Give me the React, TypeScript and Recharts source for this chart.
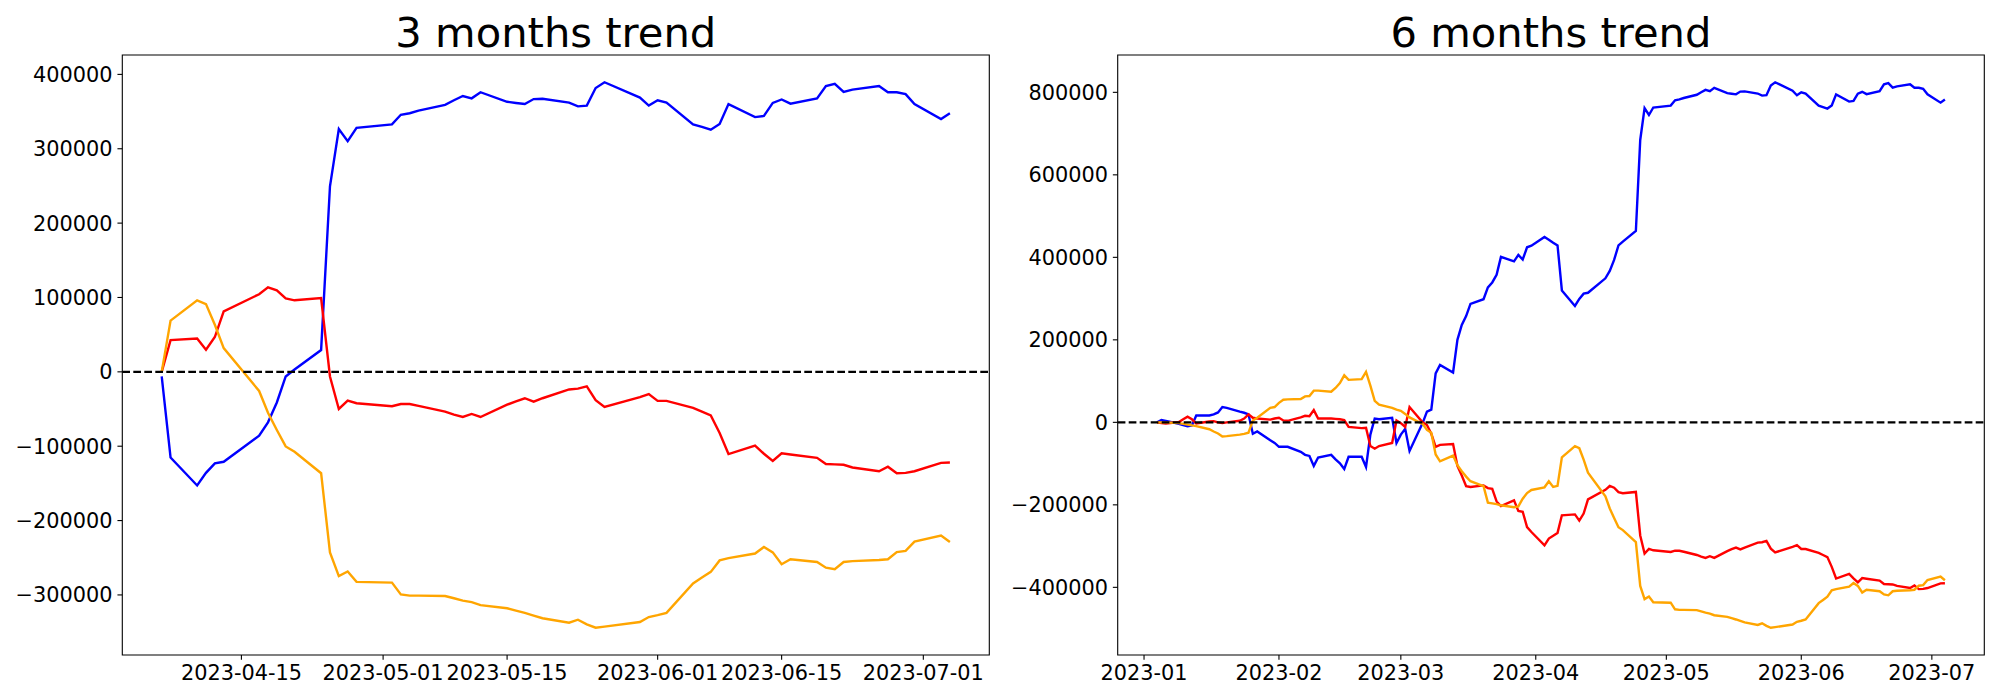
import React from "react";
import { LineChart, Line, XAxis, YAxis, ReferenceLine, ReferenceArea } from "recharts";

// ---- 3 months panel ----
const threeMonthDates = [
  "2023-04-06", "2023-04-07", "2023-04-10", "2023-04-11", "2023-04-12", "2023-04-13", "2023-04-17", "2023-04-18",
  "2023-04-19", "2023-04-20", "2023-04-21", "2023-04-24", "2023-04-25", "2023-04-26", "2023-04-27", "2023-04-28",
  "2023-05-02", "2023-05-03", "2023-05-04", "2023-05-05", "2023-05-08", "2023-05-09", "2023-05-10", "2023-05-11",
  "2023-05-12", "2023-05-15", "2023-05-16", "2023-05-17", "2023-05-18", "2023-05-19", "2023-05-22", "2023-05-23",
  "2023-05-24", "2023-05-25", "2023-05-26", "2023-05-30", "2023-05-31", "2023-06-01", "2023-06-02", "2023-06-05",
  "2023-06-06", "2023-06-07", "2023-06-08", "2023-06-09", "2023-06-12", "2023-06-13", "2023-06-14", "2023-06-15",
  "2023-06-16", "2023-06-19", "2023-06-20", "2023-06-21", "2023-06-22", "2023-06-23", "2023-06-26", "2023-06-27",
  "2023-06-28", "2023-06-29", "2023-06-30", "2023-07-03", "2023-07-04",
];
const threeMonthBlue = [
  -6000, -115200, -152800, -135800, -123000, -120900, -85900, -67900, -41200, -6200, 3100, 29300, 249500, 326600, 310100, 328200,
  332800, 345700, 347800, 351300, 359100, 365200, 370900, 367800, 376000, 363200, 361600, 360100, 366800, 367300, 362100, 357000,
  358000, 381700, 389400, 368800, 358000, 365200, 362100, 332800, 329300, 325600, 333300, 360100, 342600, 344100, 361600, 366300,
  360600, 367800, 384300, 387400, 376500, 379600, 384300, 376000, 376000, 373500, 360100, 340000, 347700,
];
const threeMonthRed = [
  0, 42700, 44800, 29800, 46800, 81300, 104400, 113700, 109600, 98800, 96200, 99300, -6200, -49900, -38600, -42200,
  -46300, -43200, -43200, -45800, -53500, -57600, -60700, -56600, -60700, -44200, -39600, -35500, -40100, -35500, -23700, -22600,
  -19500, -38100, -47300, -33900, -29800, -39100, -39100, -48400, -53500, -58600, -82300, -110600, -99300, -110100, -119900, -109600,
  -111100, -115700, -124000, -124500, -125000, -128600, -133700, -127600, -136300, -135800, -133700, -122400, -121900,
];
const threeMonthOrange = [
  0, 68900, 96200, 91100, 63300, 31900, -25700, -55000, -78200, -100300, -107500, -136300, -242800, -274700, -268500, -282400,
  -283400, -299400, -300900, -300900, -301400, -304500, -307600, -309700, -313800, -317900, -321000, -324100, -327700, -331300, -337400, -333300,
  -339500, -344100, -342600, -336400, -329700, -327200, -324100, -284500, -276700, -269000, -253600, -250500, -244300, -235600, -242800, -258700,
  -252000, -255700, -263400, -265500, -255700, -254600, -253100, -252000, -242300, -240700, -228400, -220200, -228900,
];
const threeMonthXTicks = ["2023-04-15", "2023-05-01", "2023-05-15", "2023-06-01", "2023-06-15", "2023-07-01"];
const threeMonthXLabels = ["2023-04-15", "2023-05-01", "2023-05-15", "2023-06-01", "2023-06-15", "2023-07-01"];
const threeMonthYTicks = [-300000, -200000, -100000, 0, 100000, 200000, 300000, 400000];

// ---- 6 months panel ----
const janToAprDates = [
  "2023-01-04", "2023-01-05", "2023-01-06", "2023-01-09", "2023-01-10", "2023-01-11", "2023-01-12", "2023-01-13",
  "2023-01-16", "2023-01-17", "2023-01-18", "2023-01-19", "2023-01-20", "2023-01-23", "2023-01-24", "2023-01-25",
  "2023-01-26", "2023-01-27", "2023-01-30", "2023-01-31",
  "2023-02-01", "2023-02-02", "2023-02-03", "2023-02-06", "2023-02-07", "2023-02-08", "2023-02-09", "2023-02-10",
  "2023-02-13", "2023-02-14", "2023-02-15", "2023-02-16", "2023-02-17", "2023-02-20", "2023-02-21", "2023-02-22",
  "2023-02-23", "2023-02-24", "2023-02-27", "2023-02-28",
  "2023-03-01", "2023-03-02", "2023-03-03", "2023-03-06", "2023-03-07", "2023-03-08", "2023-03-09", "2023-03-10",
  "2023-03-13", "2023-03-14", "2023-03-15", "2023-03-16", "2023-03-17", "2023-03-20", "2023-03-21", "2023-03-22",
  "2023-03-23", "2023-03-24", "2023-03-27", "2023-03-28", "2023-03-29", "2023-03-30", "2023-03-31",
  "2023-04-03", "2023-04-04", "2023-04-05",
];
const sixMonthDates = [...janToAprDates, ...threeMonthDates];
const sixMonthBlue = [
  0, 5600, 3700, -3500, -6500, -9300, -7400, 16700, 16700, 19500, 24100, 37100, 35200, 25900, 23200, 19500, -27800, -22200, -43600, -50000,
  -59300, -59300, -59300, -71300, -78800, -81500, -105600, -85200, -78800, -89900, -99200, -113000, -83400, -83400, -108400, -29700, 9300, 7400, 11100, -50000,
  -29700, -15800, -69500, -1900, 25900, 30600, 118600, 139000, 120500, 200100, 236300, 257600, 287200, 298400, 327100, 339100, 357700, 401200, 390100, 405800, 394700, 424400, 428100,
  449400, 442900, 435500,
  429000, 319800, 282200, 299200, 312000, 314100, 349100, 367100, 393800, 428800, 438100, 464300, 684500, 761600, 745100, 763200,
  767800, 780700, 782800, 786300, 794100, 800200, 805900, 802800, 811000, 798200, 796600, 795100, 801800, 802300, 797100, 792000, 793000, 816700, 824400, 803800, 793000,
  800200, 797100, 767800, 764300, 760600, 768300, 795100, 777600, 779100, 796600, 801300, 795600, 802800, 819300, 822400, 811500, 814600, 819300, 811000, 811000, 808500, 795100,
  775000, 782700,
];
const sixMonthRed = [
  0, -1900, -2800, 900, 7400, 13900, 7400, -2800, 1900, 2800, 0, -1900, 0, 3700, 9300, 19500, 11100, 9300, 6500, 9300,
  11100, 4600, 3700, 12000, 15800, 14800, 29700, 9300, 9300, 8300, 7400, 5600, -11100, -13900, -13000, -57400, -63900, -57400, -50000, 4600,
  -1900, -11100, 37100, 0, -6500, -27800, -59300, -54700, -52800, -105600, -128800, -154700, -156600, -152900, -159400, -161200, -191800, -202900, -189000, -215000, -216800, -253900, -265900,
  -298400, -281700, -275200,
  -268000, -225300, -223200, -238200, -221200, -186700, -163600, -154300, -158400, -169200, -171800, -168700, -274200, -317900, -306600, -310200,
  -314300, -311200, -311200, -313800, -321500, -325600, -328700, -324600, -328700, -312200, -307600, -303500, -308100, -303500, -291700, -290600, -287500, -306100, -315300, -301900, -297800,
  -307100, -307100, -316400, -321500, -326600, -350300, -378600, -367300, -378100, -387900, -377600, -379100, -383700, -392000, -392500, -393000, -396600, -401700, -395600, -404300, -403800, -401700,
  -390400, -389900,
];
const sixMonthOrange = [
  0, 0, 0, -1900, -3700, -5600, -7400, -9300, -16700, -22200, -26900, -34300, -33400, -29700, -27800, -25000, 4600, 11100, 35200, 37100,
  47300, 54700, 55600, 56500, 63000, 63900, 76900, 76900, 74100, 83400, 95400, 114000, 102900, 104700, 122300, 89000, 51900, 42600, 35200, 30600,
  27800, 20400, 12000, -3700, -18500, -25000, -77800, -94500, -80600, -103800, -118600, -131600, -142700, -154700, -194600, -196500, -198300, -201100, -205700, -203900, -185300, -171400, -164000,
  -157500, -142700, -156600,
  -153800, -84900, -57600, -62700, -90500, -121900, -179500, -208800, -232000, -254100, -261300, -290100, -396600, -428500, -422300, -436200,
  -437200, -453200, -454700, -454700, -455200, -458300, -461400, -463500, -467600, -471700, -474800, -477900, -481500, -485100, -491200, -487100, -493300, -497900, -496400, -490200, -483500,
  -481000, -477900, -438300, -430500, -422800, -407400, -404300, -398100, -389400, -396600, -412500, -405800, -409500, -417200, -419300, -409500, -408400, -406900, -405800, -396100, -394500, -382200,
  -374000, -382700,
];
const sixMonthXTicks = ["2023-01-01", "2023-02-01", "2023-03-01", "2023-04-01", "2023-05-01", "2023-06-01", "2023-07-01"];
const sixMonthXLabels = ["2023-01", "2023-02", "2023-03", "2023-04", "2023-05", "2023-06", "2023-07"];
const sixMonthYTicks = [-400000, -200000, 0, 200000, 400000, 600000, 800000];

const FONT = "'DejaVu Sans', sans-serif";
const toTime = (d: string) => Date.parse(d + "T00:00:00Z");

// matplotlib-style 5% margins around the data
const padded = (lo: number, hi: number): [number, number] => {
  const pad = (hi - lo) * 0.05;
  return [lo - pad, hi + pad];
};

const fmtY = (v: number) => (v < 0 ? "\u2212" + Math.abs(v) : String(v));

function TrendPanel({ title, dates, blue, red, orange, xTicks, xLabels, yTicks, left, axisWidth, rightGap }) {
  const rows = dates.map((d, i) => ({ t: toTime(d), blue: blue[i], red: red[i], orange: orange[i] }));
  const times = rows.map((r) => r.t);
  const all = [...blue, ...red, ...orange];
  const xDomain = padded(Math.min(...times), Math.max(...times));
  const yDomain = padded(Math.min(...all), Math.max(...all));
  const tickTimes = xTicks.map(toTime);
  const fmtX = (v: number) => xLabels[tickTimes.indexOf(v)] ?? "";
  const tickStyle = { fill: "#000", fontSize: 20.83, fontFamily: FONT };
  const plotCenter = axisWidth + (1000 - axisWidth - rightGap) / 2;

  return (
    <div style={{ position: "absolute", left, top: 0, width: 1000, height: 700 }}>
      <LineChart width={1000} height={700} data={rows} margin={{ top: 55, right: rightGap, bottom: 0, left: 0 }}>
        <XAxis
          dataKey="t"
          type="number"
          domain={xDomain}
          ticks={tickTimes}
          tickFormatter={fmtX}
          interval={0}
          height={45}
          axisLine={false}
          tickLine={{ stroke: "#000", strokeWidth: 1.1 }}
          tickSize={4.86}
          tickMargin={4.86}
          tick={tickStyle}
          allowDataOverflow
        />
        <YAxis
          type="number"
          domain={yDomain}
          ticks={yTicks}
          tickFormatter={fmtY}
          interval={0}
          width={axisWidth}
          axisLine={false}
          tickLine={{ stroke: "#000", strokeWidth: 1.1 }}
          tickSize={4.86}
          tickMargin={4.86}
          tick={tickStyle}
          allowDataOverflow
        />
        <Line type="linear" dataKey="blue" stroke="#0000ff" strokeWidth={2.4} dot={false} isAnimationActive={false} />
        <Line type="linear" dataKey="red" stroke="#ff0000" strokeWidth={2.4} dot={false} isAnimationActive={false} />
        <Line type="linear" dataKey="orange" stroke="#ffa500" strokeWidth={2.4} dot={false} isAnimationActive={false} />
        <ReferenceLine y={0} stroke="#000" strokeWidth={2.2} strokeDasharray="7.7 3.3" />
        <ReferenceArea
          x1={xDomain[0]}
          x2={xDomain[1]}
          y1={yDomain[0]}
          y2={yDomain[1]}
          fill="none"
          fillOpacity={0}
          stroke="#000"
          strokeWidth={1.1}
          ifOverflow="visible"
        />
      </LineChart>
      <svg width={1000} height={70} style={{ position: "absolute", left: 0, top: 0, overflow: "visible" }}>
        <text x={plotCenter} y={46.7} textAnchor="middle" fontSize={41.67} fontFamily={FONT} fill="#000">
          {title}
        </text>
      </svg>
    </div>
  );
}

export default function App() {
  return (
    <div style={{ position: "absolute", left: 0, top: 0, width: 2000, height: 700, background: "#fff" }}>
      <TrendPanel
        title="3 months trend"
        dates={threeMonthDates}
        blue={threeMonthBlue}
        red={threeMonthRed}
        orange={threeMonthOrange}
        xTicks={threeMonthXTicks}
        xLabels={threeMonthXLabels}
        yTicks={threeMonthYTicks}
        left={0}
        axisWidth={122.3}
        rightGap={10.7}
      />
      <TrendPanel
        title="6 months trend"
        dates={sixMonthDates}
        blue={sixMonthBlue}
        red={sixMonthRed}
        orange={sixMonthOrange}
        xTicks={sixMonthXTicks}
        xLabels={sixMonthXLabels}
        yTicks={sixMonthYTicks}
        left={1000}
        axisWidth={117.7}
        rightGap={15.7}
      />
    </div>
  );
}
